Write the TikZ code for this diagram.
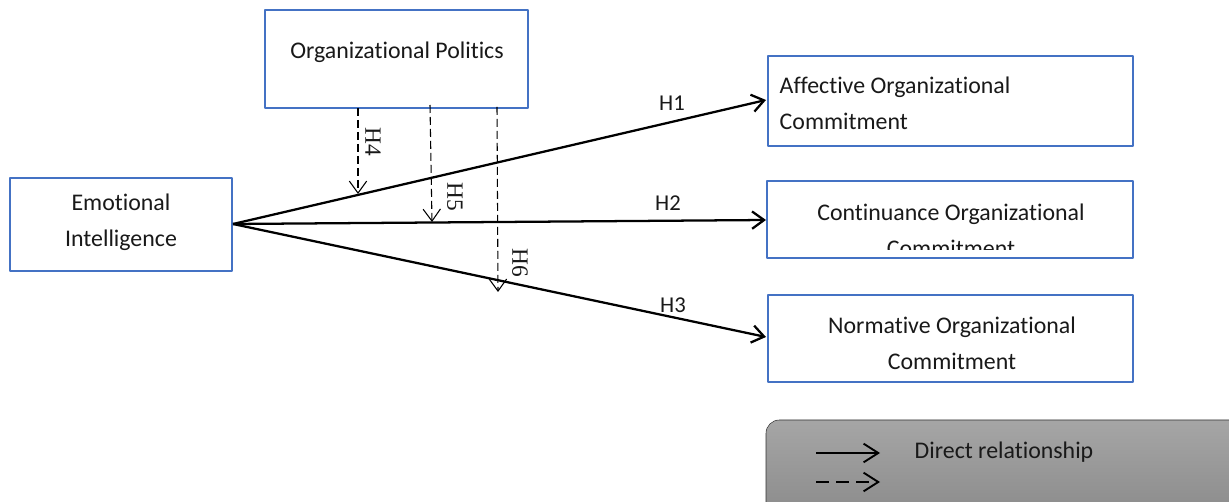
\documentclass[tikz,border=0pt]{standalone}
\usepackage{fontspec}
\setmainfont[Ligatures=NoCommon]{Carlito}
\newfontfamily\hfont{Liberation Serif}
\usetikzlibrary{arrows.meta}
\definecolor{boxblue}{HTML}{4472C4}
\begin{document}
\begin{tikzpicture}[line join=round, line cap=butt, >={Straight Barb[length=9pt,width=13pt]}, x=0.75pt, y=-0.75pt]
	\tikzset{every node/.style={font=\fontsize{17.9}{27}\selectfont, text=black!90},
		varbox/.style={draw=boxblue, line width=1.6pt, fill=white},
		direct/.style={->, line width=1.7pt},
		moder/.style={->, line width=0.8pt, dash pattern=on 6pt off 3pt},
		keyarrow/.style={-{Straight Barb[length=11pt,width=14pt]}, line width=1.4pt},
		hyp/.style={font=\fontsize{17}{18}\selectfont},
		hmod/.style={font=\hfont\fontsize{17.5}{18}\selectfont, rotate=-90}}
	\useasboundingbox (0,0) rectangle (1229,502);
	% variable boxes
	\draw[varbox] (265,10) rectangle (528,108);
	\node (op) at (397,52) {Organizational Politics};
	\draw[varbox] (10,178) rectangle (232,271);
	\node[align=center] (ei) at (121,222) {Emotional\\Intelligence};
	\draw[varbox] (768,56) rectangle (1133,146);
	\node[align=left, anchor=west] (ac) at (775,103) {Affective Organizational\\Commitment};
	\draw[varbox] (767,181) rectangle (1133,258);
	\begin{scope}
		\clip (768,182) rectangle (1132,250);
		\node[align=center] (cc) at (951,230) {Continuance Organizational\\Commitment};
	\end{scope}
	\draw[varbox] (768,295) rectangle (1133,382);
	\node[align=center] (nc) at (952,343) {Normative Organizational\\Commitment};
	% coordinates for the paths
	\coordinate (eiE) at (233,224);
	\coordinate (acW) at (766,100);
	\coordinate (ccW) at (766,220);
	\coordinate (ncW) at (766,337);
	% direct effects
	\draw[direct] (eiE) -- (acW);
	\draw[direct] (eiE) -- (ccW);
	\draw[direct] (eiE) -- (ncW);
	\node[hyp] (h1) at (672,103) {H1};
	\node[hyp] (h2) at (668,203) {H2};
	\node[hyp] (h3) at (673,305) {H3};
	% moderating effects
	\coordinate (m4a) at (358,108); \coordinate (m4b) at (358,194);
	\coordinate (m5a) at (430,105); \coordinate (m5b) at (432,222);
	\coordinate (m6a) at (497,107); \coordinate (m6b) at (498,292);
	\draw[moder] (m4a) -- (m4b);
	\draw[moder] (m5a) -- (m5b);
	\draw[moder] (m6a) -- (m6b);
	\node[hmod] (h4) at (373,142) {H4};
	\node[hmod] (h5) at (455,197) {H5};
	\node[hmod] (h6) at (520,263) {H6};
	% legend
	\begin{scope}
		\clip (0,0) rectangle (1229,502);
		\draw[black!80, top color=black!35, bottom color=black!47, rounded corners=10pt] (766,420) rectangle (1260,530);
	\end{scope}
	\coordinate (l1a) at (816,453); \coordinate (l1b) at (880,453);
	\coordinate (l2a) at (816,482); \coordinate (l2b) at (880,482);
	\draw[keyarrow] (l1a) -- (l1b);
	\draw[keyarrow, dash pattern=on 10pt off 5pt] (l2a) -- (l2b);
	\node[anchor=west] (lg) at (910,452) {Direct relationship};
\end{tikzpicture}
\end{document}
